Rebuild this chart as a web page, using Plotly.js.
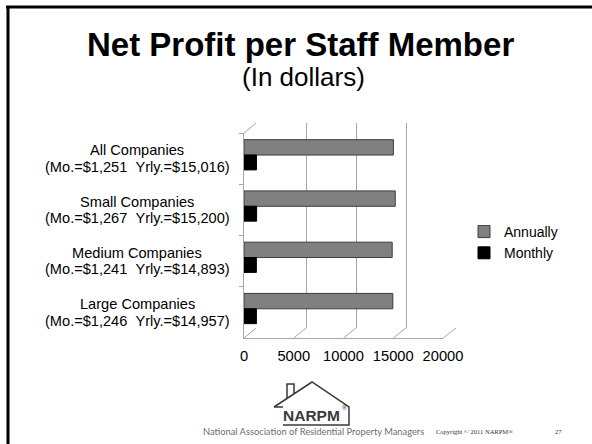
<!DOCTYPE html>
<html>
<head>
<meta charset="utf-8">
<script src="https://cdn.plot.ly/plotly-3.0.1.min.js"></script>
<style>html,body{margin:0;padding:0;background:#fff;}#chart{width:592px;height:444px;}</style>
</head>
<body>
<div id="chart"></div>
<script>
// ---- data ----
const categories = ['All Companies', 'Small Companies', 'Medium Companies', 'Large Companies'];
const annually = [15016, 15200, 14893, 14957];
const monthly = [1251, 1267, 1241, 1246];
const seriesNames = ['Annually', 'Monthly'];
const xTickVals = [0, 5000, 10000, 15000, 20000];
const titleText = 'Net Profit per Staff Member';
const subtitleText = '(In dollars)';

// ---- helpers ----
const W = 592, H = 444;
const px = x => x / W;
const py = y => 1 - y / H;
const fmt = n => n.toLocaleString('en-US');
const FONT = 'Arial, "Liberation Sans", sans-serif';

// front (bars) plot and back wall, in pixels
const front = {x0: 244, x1: 443, y0: 133, y1: 338};
const back = {x0: 256, x1: 456, y0: 123, y1: 328};
const xMax = 20000;

const traces = [
  { // back wall carrier (invisible)
    type: 'scatter', mode: 'markers', x: [0], y: [0], xaxis: 'x', yaxis: 'y',
    marker: {opacity: 0}, showlegend: false, hoverinfo: 'skip'
  },
  {
    type: 'bar', orientation: 'h', name: seriesNames[0],
    x: annually, y: categories, xaxis: 'x2', yaxis: 'y2',
    width: 0.3, offset: -0.37,
    marker: {color: '#808080', line: {color: '#3c3c3c', width: 1}}
  },
  {
    type: 'bar', orientation: 'h', name: seriesNames[1],
    x: monthly, y: categories, xaxis: 'x2', yaxis: 'y2',
    width: 0.29, offset: -0.07,
    marker: {color: '#000000', line: {color: '#000000', width: 1}}
  }
];

const shapes = [
  {type: 'line', xref: 'paper', yref: 'paper', x0: px(6), x1: px(W), y0: py(7), y1: py(7), line: {color: '#000', width: 3}},
  {type: 'line', xref: 'paper', yref: 'paper', x0: px(8), x1: px(8), y0: py(6), y1: py(H), line: {color: '#000', width: 3}},
  // top-left depth edge
  {type: 'line', xref: 'paper', yref: 'paper', x0: px(front.x0), x1: px(back.x0), y0: py(front.y0), y1: py(back.y0), line: {color: '#a6a6a6', width: 1}}
];
xTickVals.forEach(t => {
  const fx = front.x0 + t / xMax * (front.x1 - front.x0);
  const bx = back.x0 + t / xMax * (back.x1 - back.x0);
  shapes.push({type: 'line', xref: 'paper', yref: 'paper', x0: px(fx), x1: px(bx), y0: py(front.y1), y1: py(back.y1), line: {color: '#a6a6a6', width: 1}});
});
// NARPM house logo
shapes.push({type: 'path', xref: 'paper', yref: 'paper',
  path: `M ${px(274)} ${py(407)} L ${px(312)} ${py(382)} L ${px(349)} ${py(407)} L ${px(349)} ${py(425)} L ${px(283)} ${py(425)} ` +
        `M ${px(274)} ${py(407)} L ${px(283)} ${py(407)} ` +
        `M ${px(287)} ${py(398)} L ${px(287)} ${py(384)} L ${px(294)} ${py(384)} L ${px(294)} ${py(394)}`,
  line: {color: '#3a3a3a', width: 1.5}});

const annotations = [
  {text: '<b>' + titleText + '</b>', xref: 'paper', yref: 'paper', x: px(300), y: py(45), xanchor: 'center', yanchor: 'middle', showarrow: false, font: {family: FONT, size: 33, color: '#000'}},
  {text: subtitleText, xref: 'paper', yref: 'paper', x: px(303), y: py(77), xanchor: 'center', yanchor: 'middle', showarrow: false, font: {family: FONT, size: 26, color: '#000'}},
  {text: 'National Association of Residential Property Managers', xref: 'paper', yref: 'paper', x: px(313), y: py(431), xanchor: 'center', yanchor: 'middle', showarrow: false, font: {family: 'Lato, "DejaVu Sans", sans-serif', size: 9.3, color: '#6e6e6e'}},
  {text: 'Copyright © 2011 NARPM®', xref: 'paper', yref: 'paper', x: px(474), y: py(431), xanchor: 'center', yanchor: 'middle', showarrow: false, font: {family: '"Liberation Serif", serif', size: 6.5, color: '#333'}},
  {text: '27', xref: 'paper', yref: 'paper', x: px(558), y: py(431), xanchor: 'center', yanchor: 'middle', showarrow: false, font: {family: '"Liberation Serif", serif', size: 6.5, color: '#333'}},
  {text: '<b>NARPM</b>', xref: 'paper', yref: 'paper', x: px(312), y: py(415), xanchor: 'center', yanchor: 'middle', showarrow: false, font: {family: '"Liberation Sans Narrow", "Arial Narrow", Arial, sans-serif', size: 15.5, color: '#3a3a3a'}},
  {text: '®', xref: 'paper', yref: 'paper', x: px(345), y: py(407), xanchor: 'center', yanchor: 'middle', showarrow: false, font: {family: FONT, size: 7, color: '#3a3a3a'}}
];
categories.forEach((c, i) => {
  annotations.push({text: c, xref: 'paper', yref: 'y2', x: px(137), y: i, yshift: 8.3, xanchor: 'center', yanchor: 'middle', showarrow: false, font: {family: FONT, size: 14.6, color: '#000'}});
  annotations.push({text: `(Mo.=$${fmt(monthly[i])} \u00a0Yrly.=$${fmt(annually[i])})`, xref: 'paper', yref: 'y2', x: px(137), y: i, yshift: -8.3, xanchor: 'center', yanchor: 'middle', showarrow: false, font: {family: FONT, size: 14.6, color: '#000'}});
});

const layout = {
  width: W, height: H, autosize: false,
  margin: {l: 0, r: 0, t: 0, b: 0},
  paper_bgcolor: '#fff', plot_bgcolor: 'rgba(0,0,0,0)',
  font: {family: FONT, color: '#000'},
  showlegend: true,
  legend: {x: px(464), y: py(216), xanchor: 'left', yanchor: 'top', bgcolor: 'rgba(0,0,0,0)', borderwidth: 0, font: {family: FONT, size: 14, color: '#000'}, traceorder: 'normal', itemwidth: 30},
  xaxis: {domain: [px(back.x0), px(back.x1)], anchor: 'y', range: [0, xMax], tickvals: xTickVals, showticklabels: false, ticks: '', showgrid: true, gridcolor: '#a6a6a6', gridwidth: 1, zeroline: false, showline: false, fixedrange: true},
  yaxis: {domain: [py(back.y1), py(back.y0)], anchor: 'x', range: [0, 1], showticklabels: false, ticks: '', showgrid: false, zeroline: false, showline: false, fixedrange: true},
  xaxis2: {domain: [px(front.x0), px(front.x1)], anchor: 'y2', range: [0, xMax], tickvals: xTickVals, ticktext: xTickVals.map(String), ticks: '', showgrid: false, zeroline: false, showline: true, linecolor: '#a6a6a6', linewidth: 1, tickfont: {family: FONT, size: 14.7, color: '#000'}, ticklabelstandoff: 4, fixedrange: true},
  yaxis2: {domain: [py(front.y1), py(front.y0)], anchor: 'x2', type: 'category', categoryorder: 'array', categoryarray: categories, autorange: 'reversed', showticklabels: false, ticks: 'outside', tickson: 'boundaries', ticklen: 4, tickcolor: '#a6a6a6', showgrid: false, zeroline: false, showline: true, linecolor: '#a6a6a6', linewidth: 1, fixedrange: true},
  barmode: 'group',
  shapes: shapes,
  annotations: annotations
};

Plotly.newPlot('chart', traces, layout, {displayModeBar: false, staticPlot: true});
</script>
</body>
</html>
